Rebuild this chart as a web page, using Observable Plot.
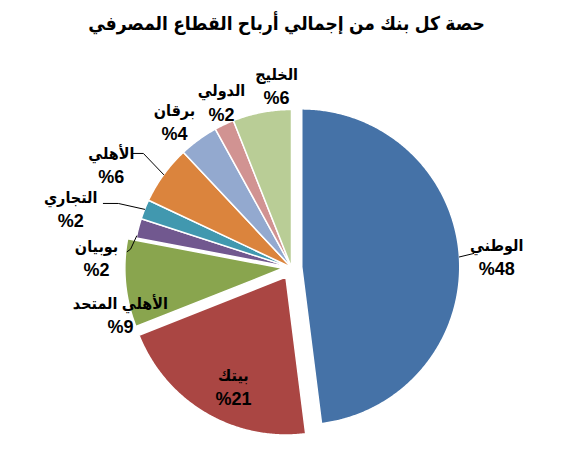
<!DOCTYPE html>
<html><head><meta charset="utf-8">
<script src="https://cdn.jsdelivr.net/npm/d3@7"></script>
<script src="https://cdn.jsdelivr.net/npm/@observablehq/plot@0.6"></script>
<style>
body{margin:0;background:#fff;font-family:"Liberation Sans","DejaVu Sans Condensed","DejaVu Sans",sans-serif;}
#title{height:50px;line-height:48px;text-align:center;font-weight:bold;font-size:19px;color:#000;}
</style></head><body>
<div id="title"></div>
<div id="chart"></div>
<script>
const chartTitle = "حصة كل بنك من إجمالي أرباح القطاع المصرفي";
const banks = ["الوطني","بيتك","الأهلي المتحد","بوبيان","التجاري","الأهلي","برقان","الدولي","الخليج"];
const shares = [48,21,9,2,2,6,4,2,6];
const colors = ["#4572A7","#AA4643","#89A54E","#71588F","#4198AF","#DB843D","#93A9CF","#D19392","#B9CD96"];
const explode = [0.065,0.07,0.055,0,0,0,0,0,0];
// label placement: [angle clockwise from top (deg), distance in radii]
const labelPolar = [[87.2,1.30],[205.8,0.845],[254.3,1.125],[272.6,1.235],[284.7,1.445],[299.5,1.31],[321.1,1.18],[336.9,1.13],[355.3,1.15]];
// leader lines: slice index, arc angle override, further polar points
const leaderDefs = [
  {i:0, arc:null, pts:[[85.6,1.157]]},
  {i:5, arc:null, pts:[[307.6,1.183],[305.8,1.234]]},
  {i:4, arc:null, pts:[[290.3,1.168],[288.8,1.258]]},
  {i:3, arc:281.5, pts:[[276.5,1.025],[275.5,1.045]]}
];

document.getElementById("title").textContent = chartTitle;

const total = d3.sum(shares);
let acc = 0;
const slices = banks.map((name,i)=>{
  const a0 = acc/total*360; acc += shares[i]; const a1 = acc/total*360;
  return {name, value: shares[i], a0, a1, mid:(a0+a1)/2, ex: explode[i]};
});
const rad = Math.PI/180;
const pt = (a,f) => [f*Math.sin(a*rad), f*Math.cos(a*rad)];
const slicePts = slices.flatMap(s => {
  const [ox, oy] = pt(s.mid, s.ex);
  const out = [{name: s.name, x: ox, y: oy}];
  const n = Math.max(2, Math.ceil((s.a1-s.a0)/0.5));
  for (let k=0;k<=n;k++){ const a = s.a0 + (s.a1-s.a0)*k/n; const [px,py]=pt(a,1); out.push({name:s.name, x: ox+px, y: oy+py}); }
  out.push({name:s.name, x: ox, y: oy});
  return out;
});
const labels = slices.map((s,i)=>{ const [x,y]=pt(labelPolar[i][0], labelPolar[i][1]); return {name:s.name, x, y, pct: "%" + s.value}; });
const leaderPts = leaderDefs.flatMap(d=>{
  const s = slices[d.i];
  const [ox,oy] = pt(s.mid, s.ex);
  const [ax,ay] = pt(d.arc ?? s.mid, 1);
  const out = [{id:d.i, x:ox+ax, y:oy+ay}];
  d.pts.forEach(p=>{ const [x,y]=pt(p[0],p[1]); out.push({id:d.i,x,y}); });
  return out;
});

const W=573,H=400,CX=291,CY=217,R=158;
const font = '"Liberation Sans","DejaVu Sans Condensed","DejaVu Sans",sans-serif';
const plot = Plot.plot({
  width:W, height:H, margin:0,
  style:{fontFamily:font, background:"#fff"},
  x:{domain:[-CX/R,(W-CX)/R], axis:null},
  y:{domain:[-(H-CY)/R, CY/R], axis:null},
  color:{domain:banks, range:colors},
  marks:[
    Plot.line(slicePts, {x:"x", y:"y", z:"name", fill:"name", stroke:"white", strokeWidth:1.5, strokeLinejoin:"round", curve:"linear"}),
    Plot.line(leaderPts, {x:"x", y:"y", z:"id", stroke:"black", strokeWidth:1}),
    Plot.text(labels, {x:"x", y:"y", text:"name", dy:-12, fontSize:16, fontWeight:"bold", fill:"black"}),
    Plot.text(labels, {x:"x", y:"y", text:"pct", dy:12, fontSize:18, fontWeight:"bold", fill:"black"})
  ]
});
document.getElementById("chart").appendChild(plot);
</script>
</body></html>
